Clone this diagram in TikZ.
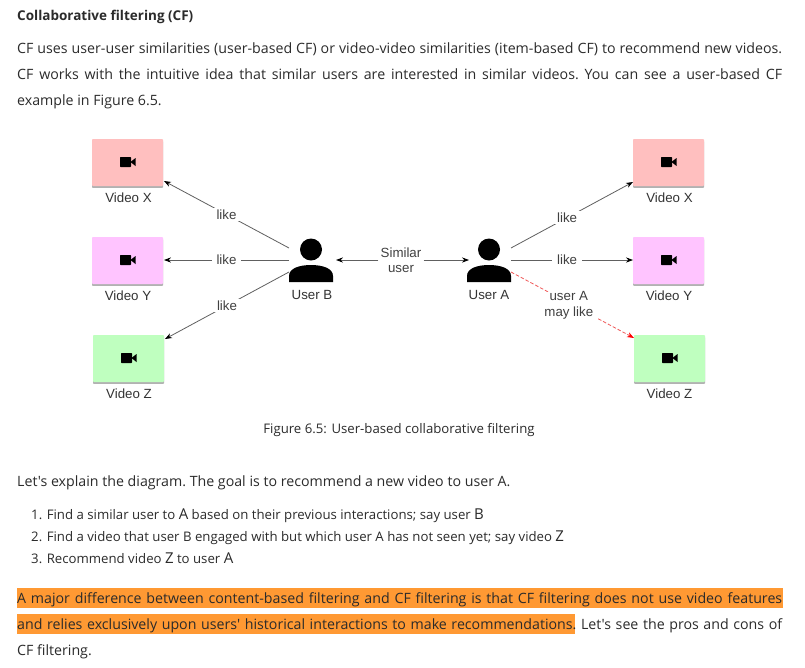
\documentclass[tikz,border=0pt]{standalone}
\usepackage{fontspec}
\setmainfont{Open Sans}
\newfontfamily\pagefont{Open Sans}
\newfontfamily\diagfont{Liberation Sans}
\usetikzlibrary{arrows.meta}
\definecolor{txt}{HTML}{2B2B2B}
\definecolor{conn}{HTML}{606060}
\definecolor{hl}{HTML}{FF9933}
\definecolor{boxred}{HTML}{FFBFBF}
\definecolor{boxpink}{HTML}{FFC4FF}
\definecolor{boxgreen}{HTML}{BFFFBF}
\definecolor{dashred}{HTML}{F05858}
\newcommand{\bodyfont}{\pagefont\fontsize{14.2}{16}\selectfont}
\newcommand{\listfont}{\pagefont\fontsize{13.2}{16}\selectfont}
\newcommand{\jline}[1]{\makebox[765pt][s]{\frenchspacing #1}}
\newcommand{\bigltr}[1]{{\fontsize{15}{16}\selectfont #1}}
\newcommand{\videobox}[4]{%
  \fill[black!30,rounded corners=.8pt] (#2,#3)++(0,1.8) rectangle ++(71,47);
  \node[videobody,fill=#4] (#1) at (#2+35.5,#3+23.5) {};
  \fill[black,rounded corners=.6pt] (#2+28,#3+18) rectangle ++(11,10);
  \fill[black] (#2+38.5,#3+23) -- (#2+43.5,#3+19) -- (#2+43.5,#3+27) -- cycle;
}
\newcommand{\persondraw}[2]{%
  \fill[black] (#1,249.5) circle (11);
  \fill[black] (#1-22,282) -- (#1-22,276) .. controls (#1-22,268) and (#1-11,265) .. (#1,265)
     .. controls (#1+11,265) and (#1+22,268) .. (#1+22,276) -- (#1+22,282) -- cycle;
  \node[personzone] (#2) at (#1,260) {};
}
\tikzset{
  x=1pt,y=-1pt,
  videobody/.style={minimum width=71pt,minimum height=47pt,inner sep=0pt,rounded corners=.8pt,draw=none},
  personzone/.style={minimum width=44pt,minimum height=24pt,inner sep=0pt,outer sep=0pt},
  pagetext/.style={anchor=base west,inner sep=0pt,text=txt,font=\bodyfont},
  listtext/.style={anchor=base west,inner sep=0pt,text=txt,font=\listfont},
  captext/.style={anchor=base,inner sep=0pt,text=black!80,font=\diagfont\fontsize{13.3}{14}\selectfont},
  lbl/.style={fill=white,inner xsep=5pt,inner ysep=1.5pt,text=black!75,align=center,font=\diagfont\fontsize{13.3}{15.5}\selectfont},
  connector/.style={draw=conn,line width=.8pt,-{Stealth[length=7pt,width=5.2pt,black]}},
  reddash/.style={draw=dashred,line width=.8pt,dash pattern=on 3.5pt off 2pt,-{Stealth[length=7pt,width=5.2pt,red]}},
  hlbar/.style={fill=hl},
}
\begin{document}
\begin{tikzpicture}
\useasboundingbox (0,0) rectangle (805,667);
\fill[white] (0,0) rectangle (805,667);
% highlight
\fill[hlbar] (17,588) rectangle (783,608);
\fill[hlbar] (17,614) rectangle (575,634);
% text
\node[pagetext,font=\pagefont\fontsize{13.5}{16}\selectfont\bfseries] (head) at (17,20) {Collaborative filtering (CF)};
\node[pagetext] (p1) at (17,53) {\jline{CF uses user-user similarities (user-based CF) or video-video similarities (item-based CF) to recommend new videos.}};
\node[pagetext] (p2) at (17,79) {\jline{CF works with the intuitive idea that similar users are interested in similar videos. You can see a user-based CF}};
\node[pagetext] (p3) at (17,105) {example in Figure 6.5.};
\node[anchor=base,inner sep=0pt,text=txt,font=\listfont] (figcap) at (399,433) {Figure 6.5: User-based collaborative filtering};
\node[pagetext] (p4) at (17,486) {\frenchspacing Let's explain the diagram. The goal is to recommend a new video to user A.};
\node[listtext] (l1) at (31,519) {1. Find a similar user to \bigltr{A} based on their previous interactions; say user \bigltr{B}};
\node[listtext] (l2) at (31,541) {2. Find a video that user B engaged with but which user A has not seen yet; say video \bigltr{Z}};
\node[listtext] (l3) at (31,563) {3. Recommend video \bigltr{Z} to user \bigltr{A}};
\node[pagetext] (h1) at (17,603) {\jline{A major difference between content-based filtering and CF filtering is that CF filtering does not use video features}};
\node[pagetext] (h2) at (17,629) {\jline{and relies exclusively upon users' historical interactions to make recommendations. Let's see the pros and cons of}};
\node[pagetext] (p5) at (17,655) {CF filtering.};
% video boxes
\videobox{vxl}{92}{139}{boxred}
\videobox{vyl}{92}{237}{boxpink}
\videobox{vzl}{93}{335}{boxgreen}
\videobox{vxr}{633}{139}{boxred}
\videobox{vyr}{633}{237}{boxpink}
\videobox{vzr}{634}{335}{boxgreen}
\node[captext] (cxl) at (128.5,202) {Video X};
\node[captext] (cyl) at (128,300) {Video Y};
\node[captext] (czl) at (129,398) {Video Z};
\node[captext] (cxr) at (669.5,202) {Video X};
\node[captext] (cyr) at (669,300) {Video Y};
\node[captext] (czr) at (669.5,398) {Video Z};
% people
\persondraw{311}{ub}
\persondraw{489}{ua}
\node[captext] (cub) at (312,299) {User B};
\node[captext] (cua) at (489,299) {User A};
% free connector ends on the boxes
\coordinate (txl) at (164,181);
\coordinate (tyl) at (164,260);
\coordinate (tzl) at (165,339);
\coordinate (txr) at (633,182);
\coordinate (tyr) at (633,260);
\coordinate (tzr) at (634,338);
% connectors
\draw[connector] (ub.north west) -- node[lbl,pos=.5] (lk1) {like} (txl);
\draw[connector] (ub.west) -- node[lbl,pos=.5] (lk2) {like} (tyl);
\draw[connector] (ub.south west) -- node[lbl,pos=.5] (lk3) {like} (tzl);
\node[text=black!75,align=center,inner sep=2pt,font=\diagfont\fontsize{13.3}{15.5}\selectfont] (sim) at (401,260) {Similar\\user};
\draw[connector,shorten >=3pt] (sim.west) -- (ub.east);
\draw[connector,shorten >=-2pt] (sim.east) -- (ua.west);
\draw[connector] (ua.north east) -- node[lbl,pos=.46] (lk4) {like} (txr);
\draw[connector] (ua.east) -- node[lbl,pos=.46] (lk5) {like} (tyr);
\draw[reddash] (ua.south east) -- node[lbl,pos=.47,yshift=-2.5pt,inner xsep=4pt,inner ysep=0pt] (lk6) {user A\\may like} (tzr);
\end{tikzpicture}
\end{document}
